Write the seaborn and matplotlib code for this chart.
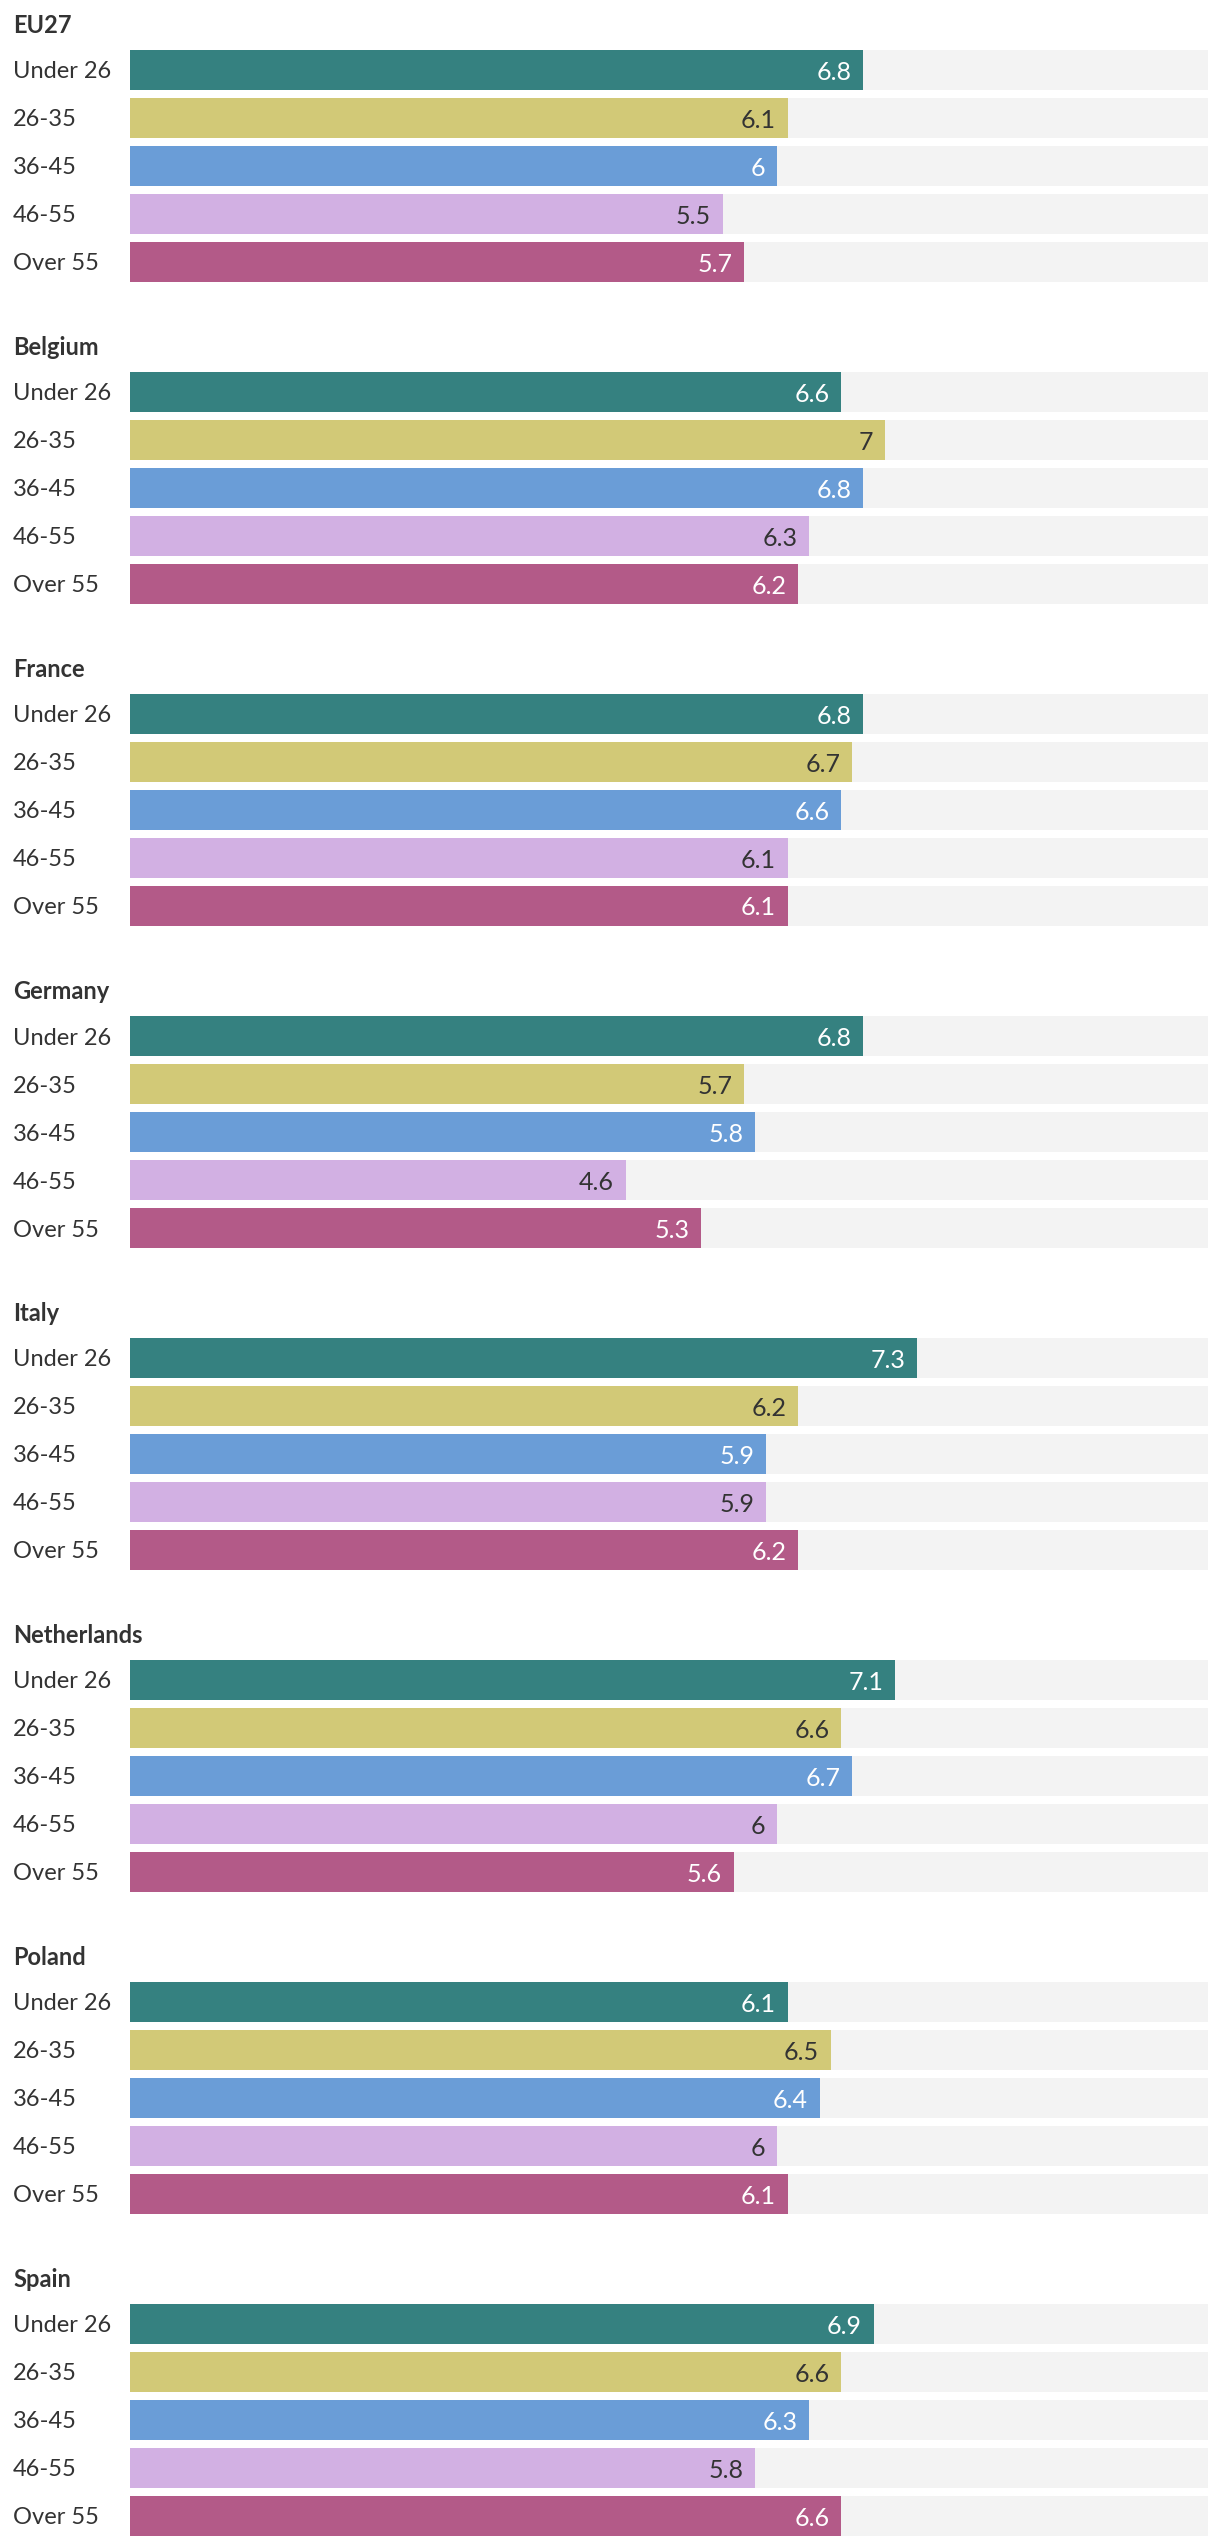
import matplotlib
matplotlib.use('Agg')
import matplotlib.pyplot as plt
import matplotlib.transforms as mtransforms
import seaborn as sns

# Data
countries = ['EU27', 'Belgium', 'France', 'Germany', 'Italy', 'Netherlands', 'Poland', 'Spain']
age_groups = ['Under 26', '26-35', '36-45', '46-55', 'Over 55']
eu27 = [6.8, 6.1, 6.0, 5.5, 5.7]
belgium = [6.6, 7.0, 6.8, 6.3, 6.2]
france = [6.8, 6.7, 6.6, 6.1, 6.1]
germany = [6.8, 5.7, 5.8, 4.6, 5.3]
italy = [7.3, 6.2, 5.9, 5.9, 6.2]
netherlands = [7.1, 6.6, 6.7, 6.0, 5.6]
poland = [6.1, 6.5, 6.4, 6.0, 6.1]
spain = [6.9, 6.6, 6.3, 5.8, 6.6]
scores = [eu27, belgium, france, germany, italy, netherlands, poland, spain]
max_score = 10

colors = ['#358180', '#d2c977', '#6a9dd7', '#d2b0e3', '#b35a88']
value_colors = ['white', '#333333', 'white', '#333333', 'white']
track_color = '#f3f3f3'
text_color = '#333333'

sns.set_theme(style='white')
plt.rcParams['font.family'] = ['Lato', 'DejaVu Sans']

W, H = 1220, 2546
fig = plt.figure(figsize=(W / 100, H / 100), dpi=100)

# layout in pixels
x0, x1 = 130, 1208
pitch = 48
bar_h = 40
group_pitch = 322
first_top = 50

for i, (country, vals) in enumerate(zip(countries, scores)):
    top = first_top + group_pitch * i - (pitch - bar_h) / 2
    ax_h = pitch * len(age_groups)
    ax = fig.add_axes([x0 / W, 1 - (top + ax_h) / H, (x1 - x0) / W, ax_h / H])

    # grey track behind each bar, then the score bars
    sns.barplot(x=[max_score] * len(age_groups), y=age_groups, color=track_color,
                width=bar_h / pitch, saturation=1, linewidth=0, orient='h', ax=ax)
    sns.barplot(x=vals, y=age_groups, hue=age_groups, palette=colors, legend=False,
                width=bar_h / pitch, saturation=1, linewidth=0, orient='h', ax=ax)

    ax.set_xlim(0, max_score)
    ax.set_ylim(len(age_groups) - 0.5, -0.5)
    ax.set_axis_off()

    trans = mtransforms.blended_transform_factory(fig.transFigure, ax.transData)
    for j, (label, v) in enumerate(zip(age_groups, vals)):
        ax.text(13 / W, j, label, transform=trans, ha='left', va='center_baseline',
                fontsize=17, color=text_color)
        ax.annotate(f'{v:g}', xy=(v, j), xytext=(-8.5, 0), textcoords='offset points',
                    ha='right', va='center_baseline', fontsize=18, color=value_colors[j])

    fig.text(13 / W, 1 - (first_top + group_pitch * i - 17) / H, country,
             ha='left', va='baseline', fontsize=17, fontweight='bold', color=text_color)

fig.savefig('out.png', dpi=100, facecolor='white')
